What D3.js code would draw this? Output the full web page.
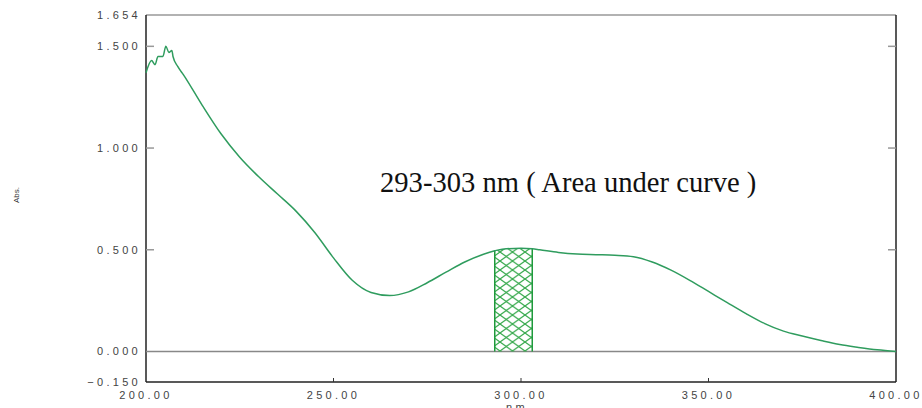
<!DOCTYPE html>
<html>
<head>
<meta charset="utf-8">
<script src="https://cdn.jsdelivr.net/npm/d3@7"></script>
<style>
  html, body { margin: 0; padding: 0; background: #fff; }
  svg { display: block; }
  .tick-label { font-family: "Liberation Sans", Arial, sans-serif; font-size: 11px; fill: #444; letter-spacing: 3.3px; }
</style>
</head>
<body>
<div id="chart"></div>
<script>
// wavelength (nm) and absorbance
const wavelengths = [200, 201.5, 202.4, 203.2, 204.5, 205.3, 206.1, 206.9, 207.2, 208.5, 210, 215, 220, 225, 230, 235, 240, 245, 250, 255, 260, 265, 270, 275, 280, 285, 290, 293, 295, 300, 303, 305, 310, 315, 320, 325, 330, 335, 340, 345, 350, 355, 360, 365, 370, 375, 380, 385, 390, 395, 400];
const absorbance = [1.37, 1.43, 1.41, 1.45, 1.45, 1.50, 1.47, 1.48, 1.45, 1.40, 1.36, 1.21, 1.07, 0.955, 0.86, 0.775, 0.69, 0.585, 0.46, 0.35, 0.29, 0.275, 0.293, 0.338, 0.39, 0.44, 0.478, 0.495, 0.503, 0.507, 0.505, 0.50, 0.487, 0.479, 0.476, 0.473, 0.466, 0.44, 0.40, 0.35, 0.295, 0.24, 0.186, 0.137, 0.10, 0.076, 0.054, 0.034, 0.02, 0.008, 0.0];

const xTicks = [200, 250, 300, 350, 400];
const yTickLabels = [-0.150, 0.000, 0.500, 1.000, 1.500, 1.654];
const yInnerTicks = [0.5, 1.0, 1.5];
const bandRange = [293, 303];
const annotation = '293-303 nm ( Area under curve )';

const width = 922, height = 408;
const margin = { top: 15, right: 26, bottom: 26, left: 146 };

const svg = d3.select('#chart').append('svg').attr('width', width).attr('height', height);

const x = d3.scaleLinear([200, 400], [margin.left, width - margin.right]);
const y = d3.scaleLinear([-0.150, 1.654], [height - margin.bottom, margin.top]);

const data = wavelengths.map((w, i) => ({ w, a: absorbance[i] }));

// crosshatch pattern for the integrated band
const defs = svg.append('defs');
const pat = defs.append('pattern').attr('id', 'hatch').attr('patternUnits', 'userSpaceOnUse')
  .attr('width', 12.5).attr('height', 9);
pat.append('path').attr('d', 'M0,0L12.5,9M0,9L12.5,0')
  .attr('stroke', '#34a84a').attr('stroke-width', 1.2).attr('fill', 'none');

// frame
const x0 = x(200), x1 = x(400), yTop = y(1.654), yBot = y(-0.150);
svg.append('line').attr('x1', x0).attr('x2', x1).attr('y1', yTop).attr('y2', yTop).attr('stroke', '#999').attr('stroke-width', 1.5);
svg.append('line').attr('x1', x0).attr('x2', x1).attr('y1', yBot).attr('y2', yBot).attr('stroke', '#222').attr('stroke-width', 1.5);
svg.append('line').attr('x1', x0).attr('x2', x0).attr('y1', yTop).attr('y2', yBot).attr('stroke', '#222').attr('stroke-width', 1.5);
svg.append('line').attr('x1', x1).attr('x2', x1).attr('y1', yTop).attr('y2', yBot).attr('stroke', '#222').attr('stroke-width', 1.5);

// zero baseline
svg.append('line').attr('x1', x0).attr('x2', x1).attr('y1', y(0)).attr('y2', y(0)).attr('stroke', '#888').attr('stroke-width', 1.5);

// inner ticks
svg.append('g').selectAll('line.l').data(yInnerTicks).join('line')
  .attr('x1', x0).attr('x2', x0 + 8).attr('y1', (d) => y(d)).attr('y2', (d) => y(d)).attr('stroke', '#999').attr('stroke-width', 1.5);
svg.append('g').selectAll('line.r').data(yInnerTicks).join('line')
  .attr('x1', x1 - 8).attr('x2', x1).attr('y1', (d) => y(d)).attr('y2', (d) => y(d)).attr('stroke', '#999').attr('stroke-width', 1.5);
svg.append('g').selectAll('line').data(xTicks.slice(1, -1)).join('line')
  .attr('x1', (d) => x(d)).attr('x2', (d) => x(d)).attr('y1', yBot).attr('y2', yBot - 4).attr('stroke', '#333').attr('stroke-width', 1);

// tick labels
svg.append('g').selectAll('text').data(yTickLabels).join('text').attr('class', 'tick-label')
  .attr('x', 141).attr('y', (d) => y(d) + 4).attr('text-anchor', 'end').text((d) => d3.format('.3f')(d));
svg.append('g').selectAll('text').data(xTicks).join('text').attr('class', 'tick-label')
  .attr('x', (d) => x(d)).attr('y', 399).attr('text-anchor', 'middle').text((d) => d3.format('.2f')(d));

svg.append('text').attr('class', 'tick-label').attr('x', 517).attr('y', 411).attr('text-anchor', 'middle').text('nm');
svg.append('text').attr('transform', 'translate(19,195) rotate(-90)').attr('text-anchor', 'middle')
  .style('font-family', 'Liberation Sans, Arial, sans-serif').style('font-size', '8px').style('fill', '#333').text('Abs.');

// hatched area under curve
const band = data.filter((d) => d.w >= bandRange[0] && d.w <= bandRange[1]);
const area = d3.area().x((d) => x(d.w)).y0(y(0)).y1((d) => y(d.a)).curve(d3.curveMonotoneX);
svg.append('path').datum(band).attr('d', area).attr('fill', 'url(#hatch)');
svg.append('g').selectAll('line').data([band[0], band[band.length - 1]]).join('line')
  .attr('x1', (d) => x(d.w)).attr('x2', (d) => x(d.w)).attr('y1', y(0)).attr('y2', (d) => y(d.a))
  .attr('stroke', '#1f9a3c').attr('stroke-width', 1.5);

// spectrum
const line = d3.line().x((d) => x(d.w)).y((d) => y(d.a)).curve(d3.curveMonotoneX);
svg.append('path').datum(data).attr('d', line).attr('fill', 'none').attr('stroke', '#2f9c5e').attr('stroke-width', 1.5);

// annotation
svg.append('text').attr('x', 380).attr('y', 192)
  .style('font-family', '"Liberation Serif", "Times New Roman", serif').style('font-size', '28.6px').style('fill', '#111')
  .text(annotation);
</script>
</body>
</html>
